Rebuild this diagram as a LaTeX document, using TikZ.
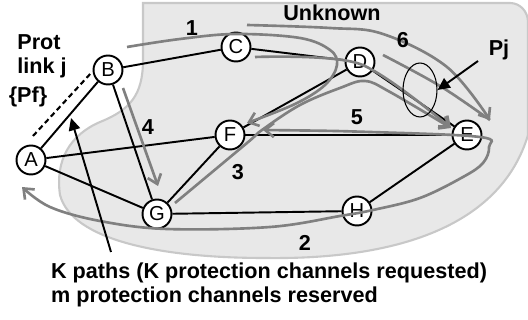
\documentclass[tikz,border=0pt]{standalone}
\usepackage{fontspec}
\setmainfont{Liberation Sans}
\usetikzlibrary{arrows.meta,positioning,shapes.geometric}
\definecolor{routegray}{RGB}{128,128,128}
\definecolor{softgray}{RGB}{232,232,232}
\definecolor{edgegray}{RGB}{200,200,200}
\tikzset{
  router/.style={
    circle,
    draw=black,
    line width=1.1pt,
    fill=white,
    minimum size=16.5pt,
    inner sep=0pt,
    font=\fontsize{11.5}{12}\selectfont
  },
  link/.style={line width=1.1pt, draw=black},
  route/.style={line width=1.5pt, draw=routegray},
  routearrow/.style={route, -{Straight Barb[length=5pt,width=8pt]}},
  lbl/.style={font=\bfseries\fontsize{12.3}{13.5}\selectfont, align=left, inner sep=1pt},
  pointer/.style={-{Triangle[length=7pt,width=6.5pt]}, line width=1.1pt}
}

\begin{document}
\begin{tikzpicture}[x=0.02cm, y=-0.02cm]
    \useasboundingbox (0,0) rectangle (528,320);
    % unknown part of the network
    \draw[fill=softgray, draw=edgegray, line width=1.2pt]
      (143,3) -- (510,3) to[out=0,in=90] (528,22) -- (528,135)
      .. controls (502,222) and (405,260) .. (265,258)
      .. controls (160,258) and (72,240) .. (60,195)
      .. controls (55,160) and (70,135) .. (100,122)
      .. controls (130,110) and (143,95) .. (143,60) -- cycle;
    \node[router] (A) at (31,160) {A};
    \node[router] (B) at (108,70) {B};
    \node[router] (C) at (236,47) {C};
    \node[router] (D) at (360,62) {D};
    \node[router] (E) at (467,135) {E};
    \node[router] (F) at (230,135) {F};
    \node[router] (G) at (157,214) {G};
    \node[router] (H) at (357,211) {H};
    \draw[link] (A) -- (B);
    \draw[link] (B) -- (C);
    \draw[link] (C) -- (D);
    \draw[link] (D) -- (F);
    \draw[link] (D) -- (E);
    \draw[link] (A) -- (F);
    \draw[link] (F) -- (E);
    \draw[link] (F) -- (G);
    \draw[link] (A) -- (G);
    \draw[link] (B) -- (G);
    \draw[link] (G) -- (H);
    \draw[link] (H) -- (E);
    % protection link
    \coordinate (pf1) at (33,136);
    \coordinate (pf2) at (92,72);
    \draw[line width=1.2pt, dash pattern=on 3pt off 2pt] (pf1) -- (pf2);
    % paths
    \coordinate (p1s) at (127,47);
    \coordinate (p1e) at (247,123);
    \draw[routearrow] plot[smooth, tension=0.6] coordinates {(p1s) (180,39) (236,34) (300,38) (330,50) (337,65) (325,85) (295,104) (p1e)};
    \coordinate (p6s) at (247,25);
    \coordinate (p6e) at (490,120);
    \draw[routearrow] plot[smooth, tension=0.6] coordinates {(p6s) (330,28) (383,34) (447,67) (p6e)};
    \coordinate (p6m) at (383,55);
    \draw[route] plot[smooth, tension=0.6] coordinates {(p6m) (440,86) (p6e)};
    \coordinate (pcs) at (255,57);
    \coordinate (pce) at (451,128);
    \draw[routearrow] plot[smooth, tension=0.5] coordinates {(pcs) (360,64) (pce)};
    \coordinate (p3s) at (175,203);
    \draw[routearrow] plot[smooth, tension=0.6] coordinates {(p3s) (247,143) (262,130) (300,105) (340,88) (365,81) (390,92) (pce)};
    \coordinate (p5s) at (263,130);
    \coordinate (p2e) at (22,187);
    \draw[route, {Straight Barb[length=5pt,width=8pt]}-{Straight Barb[length=5pt,width=8pt]}]
      plot[smooth, tension=0.6] coordinates {(p5s) (370,132) (480,137) (489,147) (483,163) (463,177) (420,198) (373,210) (340,216) (270,227) (167,229) (100,221) (50,207) (p2e)};
    \coordinate (p4s) at (123,88);
    \coordinate (p4e) at (158,186);
    \draw[routearrow] (p4s) -- (p4e);
    % cut of links
    \node[ellipse, draw, line width=0.6pt, minimum width=0.68cm, minimum height=1.08cm, inner sep=0pt] (cut) at (420,90) {};
    % labels
    \node[lbl] (one) at (192,28) {1};
    \node[lbl] (two) at (305,243) {2};
    \node[lbl] (three) at (238,172) {3};
    \node[lbl] (four) at (148,127) {4};
    \node[lbl] (five) at (357,117) {5};
    \node[lbl] (six) at (403,40) {6};
    \node[lbl] (unknown) at (332,13) {Unknown};
    \node[lbl] (pj) at (499,50) {Pj};
    \node[lbl] (prot) at (42,56) {Prot\\link j};
    \node[lbl] (pf) at (28,97) {\{Pf\}};
    \node[lbl, anchor=west] (kpaths) at (49,285) {K paths (K protection channels requested)\\m protection channels reserved};
    \coordinate (ktail) at (111,252);
    \coordinate (khead) at (71,118);
    \draw[pointer] (ktail) -- (khead);
    \coordinate (pjtail) at (478,61);
    \draw[pointer] (pjtail) -- (cut.east);
  \end{tikzpicture}
\end{document}
